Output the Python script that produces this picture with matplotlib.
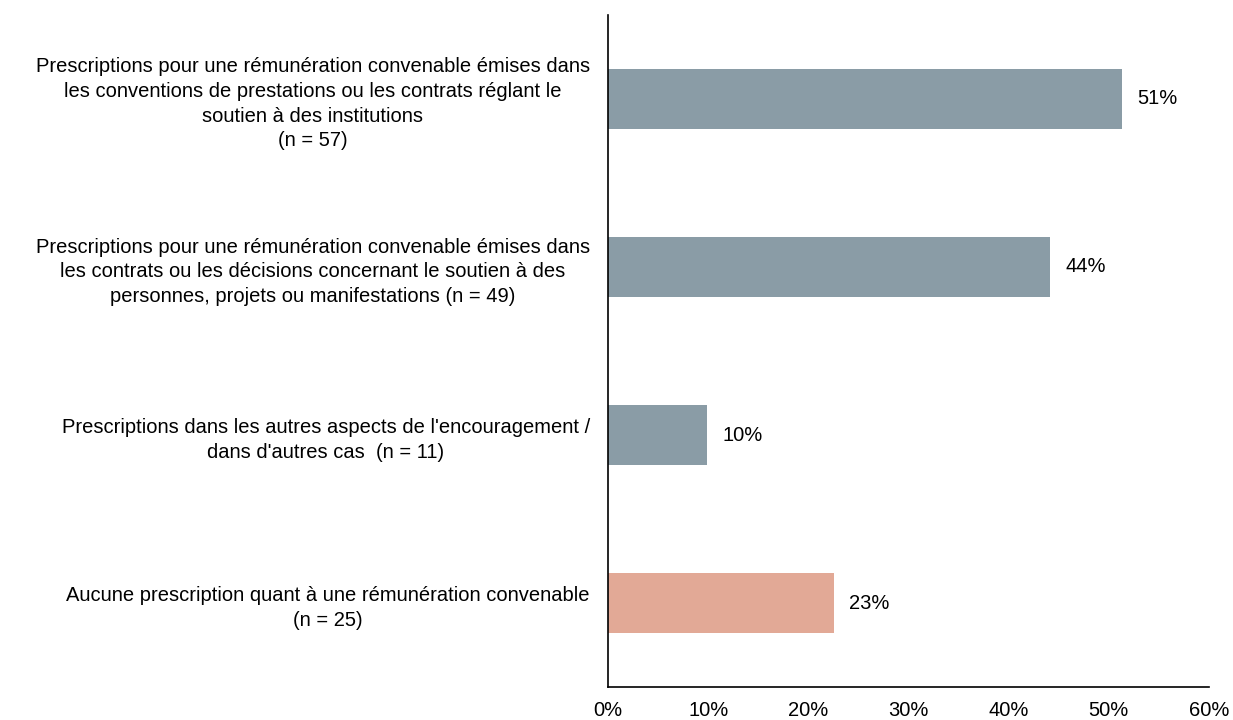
import matplotlib.pyplot as plt
from matplotlib.ticker import FuncFormatter

plt.rcParams["font.family"] = ["Liberation Sans", "DejaVu Sans"]

categories = [
    "Prescriptions pour une rémunération convenable émises dans\n"
    "les conventions de prestations ou les contrats réglant le\n"
    "soutien à des institutions\n(n = 57)",
    "Prescriptions pour une rémunération convenable émises dans\n"
    "les contrats ou les décisions concernant le soutien à des\n"
    "personnes, projets ou manifestations (n = 49)",
    "Prescriptions dans les autres aspects de l'encouragement /\n"
    "dans d'autres cas  (n = 11)",
    "Aucune prescription quant à une rémunération convenable\n(n = 25)",
]
counts = [57, 49, 11, 25]
total = 111
shares = [c / total for c in counts]
labels = ["51%", "44%", "10%", "23%"]
colors = ["#8a9ca6", "#8a9ca6", "#8a9ca6", "#e2a996"]

fig = plt.figure(figsize=(12.33, 7.2), dpi=100)
ax = fig.add_axes([0.4931, 0.0458, 0.4874, 0.9334])

pos = list(range(len(categories)))
ax.barh(pos, shares, height=0.357, color=colors)
ax.set_ylim(3.5, -0.5)
ax.set_xlim(0, 0.6)
ax.set_xticks([0, 0.1, 0.2, 0.3, 0.4, 0.5, 0.6])
ax.xaxis.set_major_formatter(FuncFormatter(lambda v, p: "{:.0f}%".format(v * 100)))
ax.set_yticks(pos)
ax.set_yticklabels(categories, multialignment="center", linespacing=1.38)

for i, v in enumerate(shares):
    ax.annotate(
        labels[i],
        xy=(v, i),
        xytext=(11, 0),
        textcoords="offset points",
        va="center",
        ha="left",
        fontsize=14.5,
    )

ax.tick_params(axis="both", length=0, labelsize=14.5)
ax.tick_params(axis="x", pad=10)
ax.tick_params(axis="y", pad=13)
ax.spines["top"].set_visible(False)
ax.spines["right"].set_visible(False)
ax.spines["left"].set_linewidth(1.2)
ax.spines["bottom"].set_linewidth(1.2)

fig.savefig("out.png", dpi=100)
